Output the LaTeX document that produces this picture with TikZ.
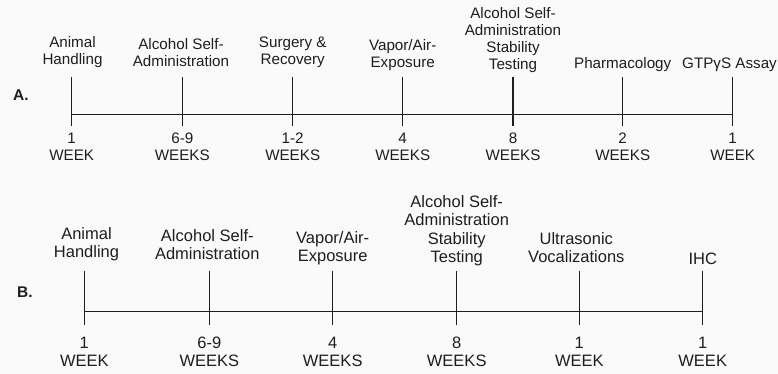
\documentclass[tikz,border=0pt]{standalone}
\usepackage{fontspec}
\setmainfont{Liberation Sans}
\definecolor{bg}{RGB}{250,250,250}
\definecolor{ln}{RGB}{30,30,30}
\begin{document}
\begin{tikzpicture}[x=1pt,y=-1pt,
  tl/.style={inner sep=0pt, align=center, anchor=south, text=ln},
  bl/.style={inner sep=0pt, align=center, anchor=north, text=ln},
  fa/.style={font=\fontsize{15.2}{17}\selectfont},
  fb/.style={font=\fontsize{16.5}{18.5}\selectfont},
  panel/.style={inner sep=0pt, anchor=base west, text=ln, font=\fontsize{15.5}{18}\selectfont\bfseries},
  tickline/.style={draw=ln, line width=1.2pt},
  axis/.style={draw=ln, line width=1.2pt}
]
\fill[bg] (0,0) rectangle (778,374);
\useasboundingbox (0,0) rectangle (778,374);

% ---------------- Panel A ----------------
\node[panel] (pA) at (13,101) {A.};
\foreach \n/\x in {1/71.7,2/182.3,3/292.7,4/402.7,5/513,6/622.7,7/732.7}{
  \coordinate (At\n) at (\x,77);
  \coordinate (Ab\n) at (\x,126);
  \coordinate (Am\n) at (\x,114.3);
}
\draw[axis] (Am1) -- (Am7);
\foreach \n in {1,...,7}{\draw[tickline] (At\n) -- (Ab\n);}

\node[tl,fa] (a1) at (72.5,70.1) {Animal\\Handling\strut};
\node[tl,fa] (a2) at (181,72.1) {Alcohol Self-\\Administration\strut};
\node[tl,fa] (a3) at (292.7,70.1) {Surgery \&\\Recovery\strut};
\node[tl,fa] (a4) at (402.7,73.1) {Vapor/Air-\\Exposure\strut};
\node[tl,fa] (a5) at (513,75.1) {Alcohol Self-\\Administration\\Stability\\Testing\strut};
\node[tl,fa] (a6) at (622.7,74.1) {Pharmacology\strut};
\node[tl,fa] (a7) at (729.5,74.1) {GTPγS Assay\strut};

\node[bl,fa] (w1) at (71.7,131.1) {\strut 1\\WEEK};
\node[bl,fa] (w2) at (182.3,131.1) {\strut 6-9\\WEEKS};
\node[bl,fa] (w3) at (292.7,131.1) {\strut 1-2\\WEEKS};
\node[bl,fa] (w4) at (402.7,131.1) {\strut 4\\WEEKS};
\node[bl,fa] (w5) at (513,131.1) {\strut 8\\WEEKS};
\node[bl,fa] (w6) at (622.7,131.1) {\strut 2\\WEEKS};
\node[bl,fa] (w7) at (732.7,131.1) {\strut 1\\WEEK};

% ---------------- Panel B ----------------
\node[panel] (pB) at (17,297) {B.};
\foreach \n/\x in {1/84.3,2/209.3,3/332.7,4/456.7,5/579.3,6/702.7}{
  \coordinate (Bt\n) at (\x,271);
  \coordinate (Bb\n) at (\x,325);
  \coordinate (Bm\n) at (\x,311.7);
}
\draw[axis] (Bm1) -- (Bm6);
\foreach \n in {1,...,6}{\draw[tickline] (Bt\n) -- (Bb\n);}

\node[tl,fb] (b1) at (86.5,263.6) {Animal\\Handling\strut};
\node[tl,fb] (b2) at (207.3,265.6) {Alcohol Self-\\Administration\strut};
\node[tl,fb] (b3) at (332.7,267.6) {Vapor/Air-\\Exposure\strut};
\node[tl,fb] (b4) at (456.7,268.6) {Alcohol Self-\\Administration\\Stability\\Testing\strut};
\node[tl,fb] (b5) at (576.3,268.6) {Ultrasonic\\Vocalizations\strut};
\node[tl,fb] (b6) at (702.7,270.6) {IHC\strut};

\node[bl,fb] (v1) at (84.3,335.1) {\strut 1\\WEEK};
\node[bl,fb] (v2) at (209.3,335.1) {\strut 6-9\\WEEKS};
\node[bl,fb] (v3) at (332.7,335.1) {\strut 4\\WEEKS};
\node[bl,fb] (v4) at (456.7,335.1) {\strut 8\\WEEKS};
\node[bl,fb] (v5) at (579.3,335.1) {\strut 1\\WEEK};
\node[bl,fb] (v6) at (702.7,335.1) {\strut 1\\WEEK};
\end{tikzpicture}
\end{document}
